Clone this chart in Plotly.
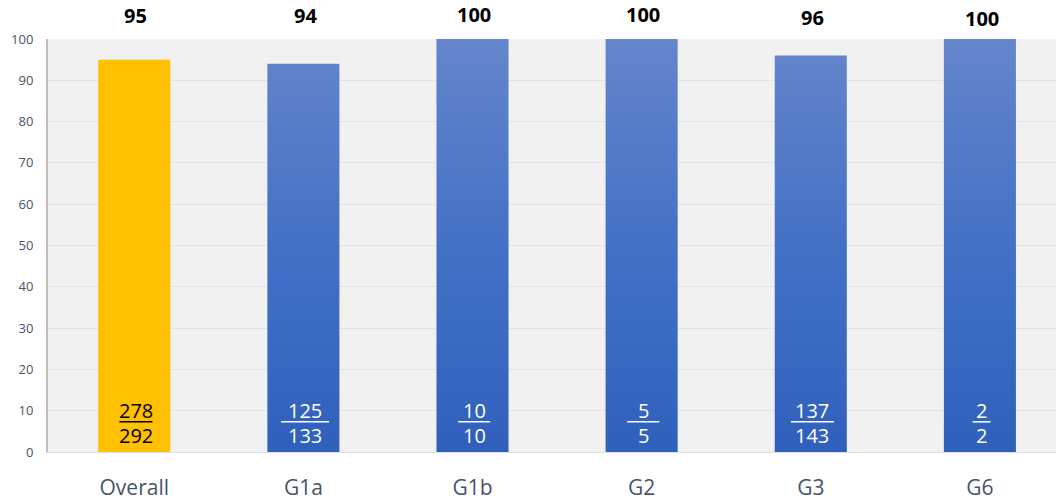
import plotly.graph_objects as go

categories = ["Overall", "G1a", "G1b", "G2", "G3", "G6"]
percent = [95, 94, 100, 100, 96, 100]
numerators = [278, 125, 10, 5, 137, 2]
denominators = [292, 133, 10, 5, 143, 2]
y_ticks = [0, 10, 20, 30, 40, 50, 60, 70, 80, 90, 100]

# style
BAR_W = 0.426
PX_PER_UNIT = 169.0
frac_line_px = [33, 48, 32, 32, 43, 18]
label_shift = [8, 8, 9, 9, 6, 5]
gold = "#FFC000"
blue_scale = [[0, "#2F60BC"], [0.5, "#4371C6"], [1, "#6585CB"]]
font_fam = "Open Sans"

fig = go.Figure()

for i, (cat, v) in enumerate(zip(categories, percent)):
    xs = [i - BAR_W / 2, i + BAR_W / 2, i + BAR_W / 2, i - BAR_W / 2, i - BAR_W / 2]
    ys = [0, 0, v, v, 0]
    if i == 0:
        fig.add_trace(go.Scatter(x=xs, y=ys, fill="toself", fillcolor=gold,
                                 mode="lines", line=dict(width=0), hoverinfo="skip",
                                 showlegend=False))
    else:
        fig.add_trace(go.Scatter(x=xs, y=ys, fill="toself",
                                 fillgradient=dict(type="vertical", colorscale=blue_scale,
                                                   start=0, stop=100),
                                 mode="lines", line=dict(width=0), hoverinfo="skip",
                                 showlegend=False))

annotations = []
shapes = []
for i, (v, n, d) in enumerate(zip(percent, numerators, denominators)):
    tc = "black" if i == 0 else "white"
    annotations.append(dict(x=i + 0.01, y=1, xref="x", yref="paper", yanchor="bottom",
                            yshift=label_shift[i], text=f"<b>{v}</b>", showarrow=False,
                            font=dict(family=font_fam, size=20, color="black")))
    annotations.append(dict(x=i + 0.01, y=10.0, xref="x", yref="y", text=str(n), showarrow=False,
                            font=dict(family=font_fam, size=20, color=tc)))
    annotations.append(dict(x=i + 0.01, y=3.9, xref="x", yref="y", text=str(d), showarrow=False,
                            font=dict(family=font_fam, size=20, color=tc)))
    hw = frac_line_px[i] / 2 / PX_PER_UNIT
    shapes.append(dict(type="line", xref="x", yref="y", x0=i + 0.01 - hw, x1=i + 0.01 + hw,
                       y0=7.3, y1=7.3, line=dict(color=tc, width=1.5)))

fig.update_layout(
    width=1056, height=504,
    margin=dict(l=48, r=0, t=39, b=52),
    paper_bgcolor="white",
    plot_bgcolor="#F1F1F1",
    annotations=annotations,
    shapes=shapes,
    xaxis=dict(range=[-0.51, 5.45], tickvals=list(range(len(categories))),
               ticktext=categories, showgrid=False, zeroline=False,
               showline=True, linecolor="#D6DEEB", linewidth=1,
               tickfont=dict(family=font_fam, size=21, color="#44546A"),
               ticks="", ticklabelstandoff=17, fixedrange=True),
    yaxis=dict(range=[0, 100], tickvals=y_ticks, showgrid=True,
               gridcolor="#DCE3EC", gridwidth=1, zeroline=False,
               showline=True, linecolor="#BFBFBF", linewidth=2,
               tickfont=dict(family=font_fam, size=13, color="#44546A"),
               ticks="", ticklabelstandoff=10, fixedrange=True),
)

fig.write_html("out.html")
